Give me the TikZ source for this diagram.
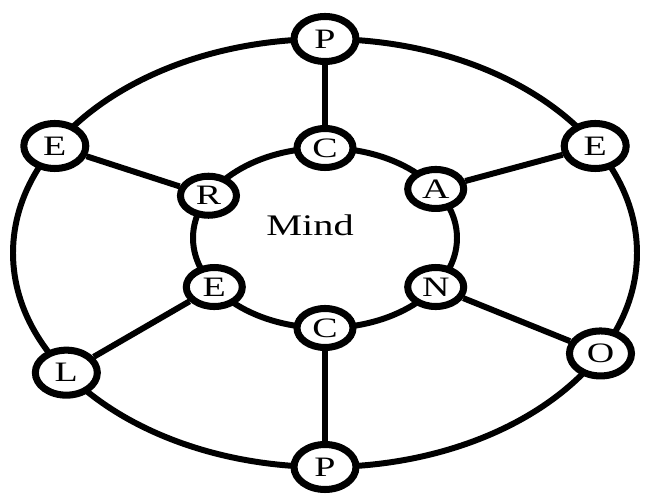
\documentclass[tikz,border=0pt]{standalone}
\usepackage{fontspec}
\newfontfamily\wideserif[FakeStretch=1.35]{Liberation Serif}
\usetikzlibrary{shapes.geometric, calc}

\begin{document}
\begin{tikzpicture}[
  ring/.style={line width=3.4pt, draw=black},
  spoke/.style={line width=3.4pt, draw=black},
  letter/.style={ellipse, draw=black, line width=4pt, fill=white, minimum width=1.24cm, minimum height=0.9cm, inner sep=0pt, font=\wideserif\fontsize{16}{18}\selectfont},
  small/.style={letter, minimum width=1.12cm, minimum height=0.78cm}
]
\useasboundingbox (0,0) rectangle (12.9,9.9);

\coordinate (oc) at (6.5,4.84);
\coordinate (ic) at (6.5,5.14);

% the two rings
\draw[ring] (oc) ellipse [x radius=6.24cm, y radius=4.28cm];
\draw[ring] (ic) ellipse [x radius=2.64cm, y radius=1.8cm];

% outer ring
\node[letter] (pTop)   at ([shift={(90:6.24cm and 4.28cm)}]oc)  {P};
\node[letter] (eRight) at ([shift={(30:6.24cm and 4.28cm)}]oc)  {E};
\node[letter] (oRight) at ([shift={(-28:6.24cm and 4.28cm)}]oc) {O};
\node[letter] (pBot)   at ([shift={(270:6.24cm and 4.28cm)}]oc) {P};
\node[letter] (lLeft)  at ([shift={(214:6.24cm and 4.28cm)}]oc) {L};
\node[letter] (eLeft)  at ([shift={(150:6.24cm and 4.28cm)}]oc) {E};

% inner ring
\node[small] (cTop) at ([shift={(90:2.64cm and 1.8cm)}]ic)  {C};
\node[small] (aIn)  at ([shift={(33:2.64cm and 1.8cm)}]ic)  {A};
\node[small] (nIn)  at ([shift={(-33:2.64cm and 1.8cm)}]ic) {N};
\node[small] (cBot) at ([shift={(270:2.64cm and 1.8cm)}]ic) {C};
\node[small] (eIn)  at ([shift={(213:2.64cm and 1.8cm)}]ic) {E};
\node[small] (rIn)  at ([shift={(152:2.64cm and 1.8cm)}]ic) {R};

\node[font=\wideserif\fontsize{17}{19}\selectfont] (mind) at (6.2,5.4) {Mind};

% spokes
\draw[spoke] (pTop) -- (cTop);
\draw[spoke] (eRight) -- (aIn);
\draw[spoke] (oRight) -- (nIn);
\draw[spoke] (pBot) -- (cBot);
\draw[spoke] (lLeft) -- (eIn);
\draw[spoke] (eLeft) -- (rIn);

\end{tikzpicture}
\end{document}
